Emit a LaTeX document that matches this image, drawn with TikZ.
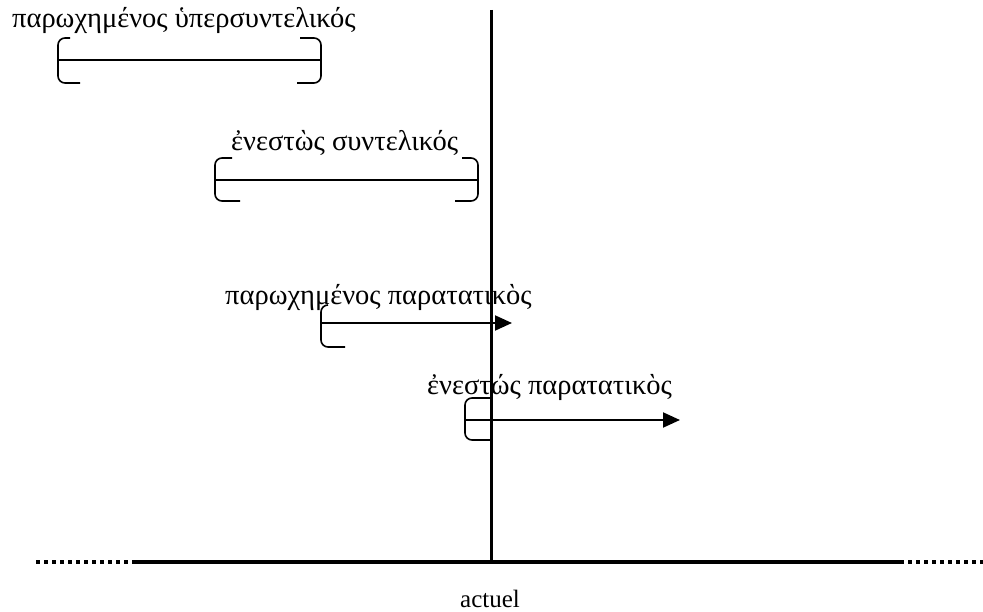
\documentclass[tikz,border=0pt]{standalone}
\usepackage{fontspec}
\setmainfont{Liberation Serif}
\usetikzlibrary{arrows.meta}
\begin{document}
\begin{tikzpicture}[x=1pt,y=-1pt,
  lbl/.style={inner sep=0pt,anchor=base west,font=\fontsize{28.5}{30}\selectfont},
  brk/.style={line width=1.6pt,rounded corners=7pt},
  mid/.style={line width=2pt},
  arr/.style={line width=2pt,-{Triangle[length=17pt,width=15pt]}}]
\useasboundingbox (0,0) rectangle (983,612);
% axes
\coordinate (vtop) at (491,10);
\coordinate (vbot) at (491,562);
\coordinate (hl) at (133,562);
\coordinate (hr) at (900,562);
\coordinate (dl) at (36,562);
\coordinate (dr) at (983,562);
\draw[line width=3pt] (vtop) -- (vbot);
\draw[line width=4pt] (hl) -- (hr);
\draw[line width=4pt,dash pattern=on 4pt off 4pt] (dl) -- (hl);
\draw[line width=4pt,dash pattern=on 4pt off 4pt] (hr) -- (dr);
\node[inner sep=0pt,anchor=base,font=\fontsize{25}{27}\selectfont] (actuel) at (490,607) {actuel};
% 1
\node[lbl] (t1) at (12,28) {παρωχημένος ὑπερσυντελικός};
\draw[brk] (70,38) -- (58,38) -- (58,83) -- (80,83);
\draw[brk] (300,38) -- (321,38) -- (321,83) -- (297,83);
\coordinate (a1) at (58,60); \coordinate (b1) at (321,60);
\draw[mid] (a1) -- (b1);
% 2
\node[lbl] (t2) at (231,151) {ἐνεστὼς συντελικός};
\draw[brk] (232,158) -- (215,158) -- (215,201) -- (240,201);
\draw[brk] (462,158) -- (478,158) -- (478,201) -- (455,201);
\coordinate (a2) at (215,180); \coordinate (b2) at (478,180);
\draw[mid] (a2) -- (b2);
% 3
\node[lbl] (t3) at (225,305) {παρωχημένος παρατατικὸς};
\draw[brk] (328,305) -- (321,305) -- (321,347) -- (345,347);
\coordinate (a3) at (321,323); \coordinate (b3) at (512,323);
\draw[arr] (a3) -- (b3);
% 4
\node[lbl] (t4) at (427,395) {ἐνεστώς παρατατικὸς};
\draw[brk] (491,398) -- (465,398) -- (465,440) -- (491,440);
\coordinate (a4) at (465,420); \coordinate (b4) at (680,420);
\draw[arr] (a4) -- (b4);
\end{tikzpicture}
\end{document}
